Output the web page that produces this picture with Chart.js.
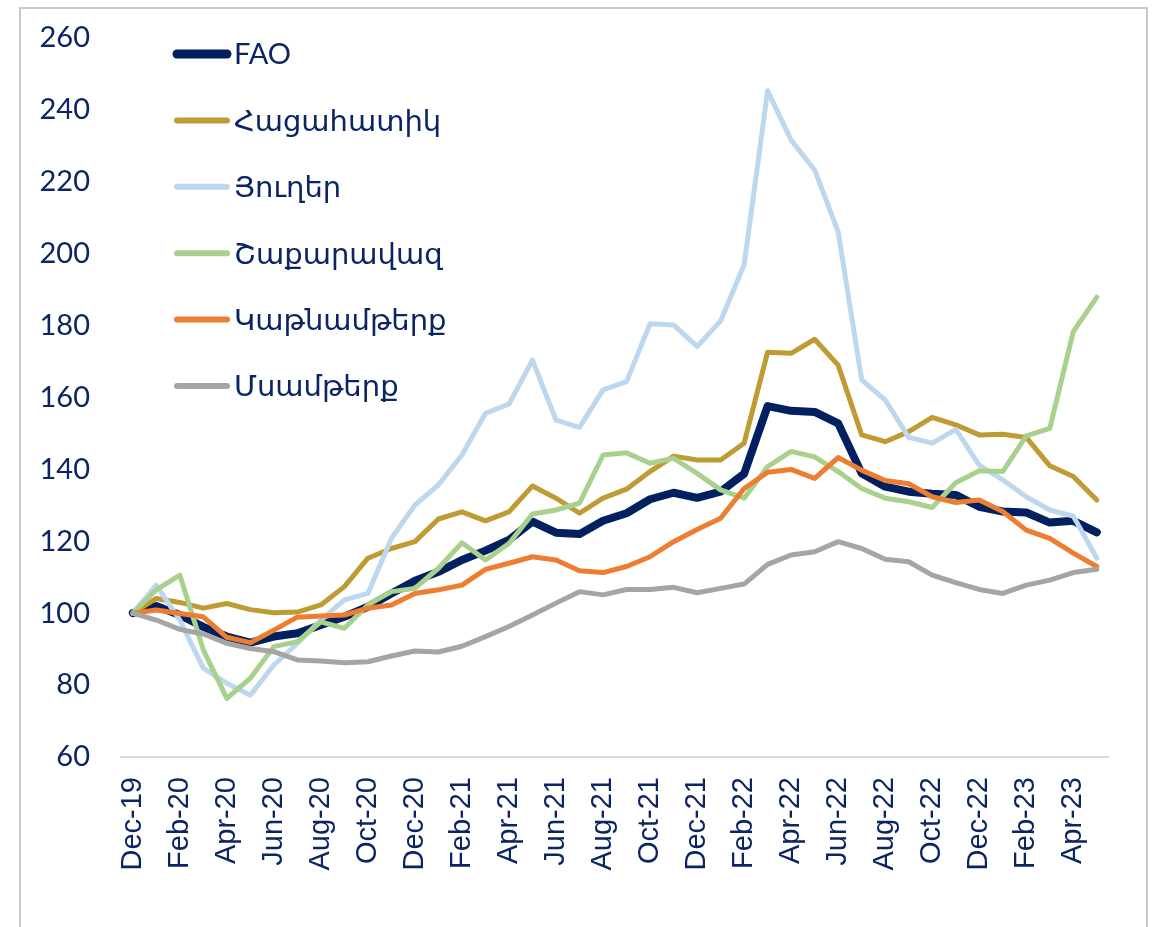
<!DOCTYPE html>
<html>
<head>
<meta charset="utf-8">
<script src="https://cdn.jsdelivr.net/npm/chart.js@4.4.1/dist/chart.umd.min.js"></script>
<style>
    body { margin: 0; background: #fff; overflow: hidden; }
    .frame {
        position: absolute; left: 19px; top: 7px; width: 1125px; height: 1000px;
        border: 2px solid #c9c9c9; border-bottom: none;
    }
    #foodChart { position: absolute; left: 0; top: 0; }
</style>
</head>
<body>
<div class="frame"></div>
<canvas id="foodChart" width="1152" height="927"></canvas>
<script>
// months Dec-19 .. May-23
const months = [
    "Dec-19", "Jan-20", "Feb-20", "Mar-20", "Apr-20", "May-20", "Jun-20", "Jul-20", "Aug-20", "Sep-20", "Oct-20", "Nov-20",
    "Dec-20", "Jan-21", "Feb-21", "Mar-21", "Apr-21", "May-21", "Jun-21", "Jul-21", "Aug-21", "Sep-21", "Oct-21", "Nov-21",
    "Dec-21", "Jan-22", "Feb-22", "Mar-22", "Apr-22", "May-22", "Jun-22", "Jul-22", "Aug-22", "Sep-22", "Oct-22", "Nov-22",
    "Dec-22", "Jan-23", "Feb-23", "Mar-23", "Apr-23", "May-23"
];

const seriesNames = ["FAO", "Հացահատիկ", "Յուղեր", "Շաքարավազ", "Կաթնամթերք", "Մսամթերք"];

const fao = [100, 102, 99.5, 96.2, 93.5, 91.8, 93.5, 94.4, 96.7, 99, 101.8, 105.5,
    109, 111.5, 114.8, 117.4, 120.4, 125.5, 122.4, 122, 125.7, 127.8, 131.7, 133.5,
    132.1, 133.8, 138.8, 157.6, 156.3, 156, 152.8, 138.9, 135.2, 133.8, 133.2, 132.9,
    129.6, 128.3, 128, 125.2, 125.7, 122.5];
const cereals = [100, 104.1, 103, 101.4, 102.7, 101, 100.1, 100.3, 102.3, 107.4, 115.3, 118,
    119.9, 126.2, 128.2, 125.7, 128.2, 135.4, 132, 127.8, 132, 134.5, 139.4, 143.7,
    142.6, 142.6, 147.3, 172.6, 172.3, 176.2, 169, 149.6, 147.7, 150.5, 154.5, 152.4,
    149.6, 149.8, 148.9, 141, 138, 131.5];
const oils = [100, 107.8, 98.1, 84.7, 80.5, 77.2, 85.6, 91.6, 98.1, 103.7, 105.5, 120.8,
    130.1, 135.7, 144, 155.6, 158.2, 170.4, 153.7, 151.7, 162.1, 164.4, 180.5, 180.2,
    174.2, 181.3, 196.9, 245.3, 231.6, 223.3, 206.1, 164.9, 159.3, 148.9, 147.3, 151.1,
    141.2, 137.1, 132.4, 128.7, 127, 115.3];
const sugar = [100, 106.5, 110.6, 89.8, 76.3, 81.9, 90.7, 92.1, 97.6, 95.8, 102.3, 106,
    106.9, 112.5, 119.6, 114.8, 119.4, 127.6, 128.7, 130.6, 144, 144.6, 141.7, 143.1,
    138.9, 134.3, 132, 140.8, 145, 143.5, 139.4, 134.7, 132, 131, 129.4, 136.3,
    139.6, 139.4, 149.3, 151.4, 178.3, 187.9];
const dairy = [100, 100.9, 99.9, 99, 93.3, 91.8, 95.3, 98.9, 99.2, 99.5, 101.4, 102.3,
    105.5, 106.5, 107.8, 112.2, 113.9, 115.7, 114.8, 111.8, 111.3, 113, 115.7, 119.9,
    123.3, 126.4, 134.7, 139.2, 140, 137.5, 143.3, 139.8, 136.9, 136, 132.4, 130.8,
    131.5, 128.3, 123.1, 120.8, 116.7, 113];
const meat = [100, 98.1, 95.5, 94.2, 91.6, 90.2, 89.3, 87, 86.7, 86.2, 86.5, 88.1,
    89.5, 89.2, 90.8, 93.5, 96.3, 99.5, 102.8, 106, 105.1, 106.6, 106.6, 107.2,
    105.7, 106.9, 108.1, 113.6, 116.2, 117.1, 119.9, 118, 115, 114.3, 110.6, 108.5,
    106.6, 105.5, 107.8, 109.2, 111.3, 112.2];

const yTicks = [60, 80, 100, 120, 140, 160, 180, 200, 220, 240, 260];

const textColor = "#0b2463";
const colors = ["#002060", "#bf9b34", "#bdd7ee", "#a9d18e", "#ed7d31", "#a5a5a5"];
const widths = [8, 5, 5, 5, 5, 5];
const allData = [fao, cereals, oils, sugar, dairy, meat];

const datasets = allData.map((d, i) => ({
    label: seriesNames[i],
    data: d,
    borderColor: colors[i],
    backgroundColor: colors[i],
    borderWidth: widths[i],
    pointRadius: 0,
    tension: 0,
    borderJoinStyle: "round",
    borderCapStyle: "round",
    order: 6 - i // later series on top, like the original
}));

// legend drawn inside the plot, one entry per row
const sideLegend = {
    id: "sideLegend",
    afterDraw(chart) {
        const ctx = chart.ctx;
        ctx.save();
        ctx.font = "29px Lato, 'DejaVu Sans', sans-serif";
        ctx.textBaseline = "middle";
        ctx.fillStyle = textColor;
        ctx.lineCap = "round";
        seriesNames.forEach((name, i) => {
            const y = 54 + i * 66.4;
            ctx.strokeStyle = colors[i];
            ctx.lineWidth = i === 0 ? 9 : 6;
            ctx.beginPath();
            ctx.moveTo(177, y);
            ctx.lineTo(227, y);
            ctx.stroke();
            ctx.fillText(name, 234, y + 1);
        });
        ctx.restore();
    }
};

new Chart(document.getElementById("foodChart"), {
    type: "line",
    data: { labels: months, datasets: datasets },
    options: {
        responsive: false,
        animation: false,
        layout: { padding: { top: 38, right: 33, bottom: 0, left: 0 } },
        plugins: {
            legend: { display: false },
            tooltip: { enabled: false }
        },
        scales: {
            x: {
                offset: true,
                grid: { display: false, drawTicks: false },
                border: { display: true, color: "#d9d9d9", width: 2 },
                afterFit: s => { s.height = 170; },
                ticks: {
                    autoSkip: false,
                    minRotation: 90,
                    maxRotation: 90,
                    padding: 20,
                    color: textColor,
                    font: { family: "'Liberation Sans', Arial, sans-serif", size: 29 },
                    callback: function (value, index) {
                        return index % 2 === 0 ? this.getLabelForValue(value) : "";
                    }
                }
            },
            y: {
                min: yTicks[0],
                max: yTicks[yTicks.length - 1],
                grid: { display: false, drawTicks: false },
                border: { display: false },
                afterFit: s => {
                    s.width = 121;
                    s.paddingTop = 0;
                    s.paddingBottom = 0;
                },
                afterBuildTicks: s => { s.ticks = yTicks.map(v => ({ value: v })); },
                ticks: {
                    padding: 31,
                    color: textColor,
                    font: { family: "Lato, 'DejaVu Sans', sans-serif", size: 29 }
                }
            }
        }
    },
    plugins: [sideLegend]
});
</script>
</body>
</html>
